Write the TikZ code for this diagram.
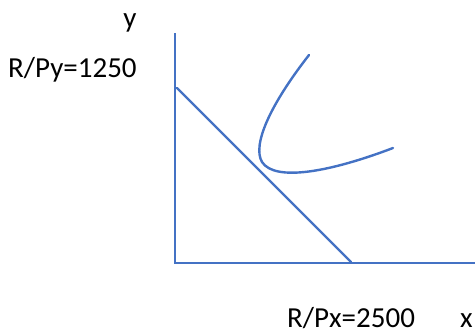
\documentclass[tikz,border=0pt]{standalone}
\usepackage{fontspec}
\setmainfont{Carlito}
\usepackage{tikz}
\usetikzlibrary{positioning, calc}
\definecolor{office_blue}{RGB}{68, 114, 196}

\begin{document}
\begin{tikzpicture}[x=1bp, y=-1bp, line cap=round,
      axis/.style ={draw=office_blue, line width=2.6bp},
      curve/.style={draw=office_blue, line width=2.4bp},
      lbl/.style  ={font=\fontsize{29bp}{33bp}\selectfont, text=black, inner sep=0pt}]
    \useasboundingbox (0,0) rectangle (475,334);
    % --- AXES ---
    \coordinate (ytop)   at (175,33);
    \coordinate (origin) at (175,263);
    \coordinate (xend)   at (475,263);
    \draw[axis, line cap=butt] (ytop) -- (origin) -- (xend);
    % --- BUDGET LINE: from R/Py down to R/Px ---
    \coordinate (yint) at (177,88);
    \coordinate (xint) at (351,262);
    \draw[curve] (yint) -- (xint);
    % --- INDIFFERENCE CURVE ---
    \coordinate (icA) at (309,55);
    \coordinate (icB) at (262,162);
    \coordinate (icC) at (393,148);
    \draw[curve] (icA) .. controls (270,105) and (252,145) .. (icB)
                       .. controls (275,182) and (330,172) .. (icC);
    % --- LABELS ---
    \node[lbl, anchor=base]      (ylbl)  at (130,27)  {y};
    \node[lbl, anchor=base west] (ry)    at (8,77)    {R/Py=1250};
    \node[lbl, anchor=base west] (rx)    at (287,327) {R/Px=2500};
    \node[lbl, anchor=base west] (xlbl)  at (460,327) {x};
  \end{tikzpicture}
\end{document}
